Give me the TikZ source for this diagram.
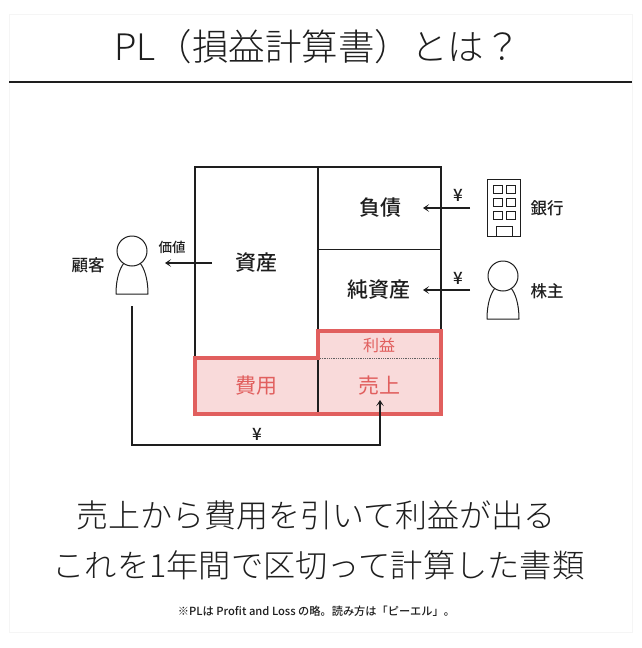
\documentclass[tikz,border=0pt]{standalone}
\usepackage{fontspec}
\setmainfont{Noto Sans CJK JP Medium}
\newfontfamily\lightjp{Noto Sans CJK JP Light}
\newfontfamily\regularjp{Noto Sans CJK JP}
\usetikzlibrary{arrows.meta}
\definecolor{redline}{HTML}{E15F5E}
\definecolor{pinkfill}{HTML}{F9DADA}
\definecolor{ink}{HTML}{1E1E1E}
\tikzset{
  x=1pt,y=-1pt,
  frameline/.style={draw=black!4,line width=0.8pt},
  heavy/.style={draw=ink,line width=1.6pt},
  thin line/.style={draw=ink,line width=1pt},
  redbox/.style={draw=redline,line width=3.2pt,miter limit=10},
  conn/.style={draw=ink,line width=1.3pt,-{Stealth[length=6pt,width=7.5pt,inset=3pt]}},
  titletext/.style={font=\lightjp\fontsize{36.5}{40}\selectfont,text=ink,inner sep=0},
  bigtext/.style={font=\lightjp\fontsize{32}{36}\selectfont,text=ink,inner sep=0},
  boxlabel/.style={font=\fontsize{21}{24}\selectfont,text=ink,inner sep=0},
  redlabel/.style={font=\regularjp\fontsize{21}{24}\selectfont,text=redline,inner sep=0},
  sidelabel/.style={font=\fontsize{16.5}{20}\selectfont,text=ink,inner sep=0},
  yenlabel/.style={font=\fontsize{17}{20}\selectfont,text=ink,inner sep=0},
  person/.pic={
    \draw[ink,line width=1pt,line join=round] (-16,43) .. controls (-16,27) and (-12,17) .. (-8,12)
      -- (8,12) .. controls (12,17) and (16,27) .. (16,43) -- cycle;
    \draw[ink,line width=1pt,fill=white] (0,0) circle[radius=15];
  }
}
\begin{document}
\begin{tikzpicture}
\useasboundingbox (0,0) rectangle (642,648);
\fill[white] (0,0) rectangle (642,648);
\draw[frameline] (9,14) rectangle (632,632);
\draw[draw=ink,line width=1.2pt] (9,82) -- (632,82);
\node[titletext] (title) at (317.5,47) {PL（損益計算書）とは？};

% sheet
\fill[pinkfill] (195,358) -- (318,358) -- (318,331) -- (441,331) -- (441,414) -- (195,414) -- cycle;
\draw[heavy] (195,358) -- (195,167) -- (441,167) -- (441,331);
\draw[heavy] (318,167) -- (318,414);
\draw[thin line] (318,249) -- (441,249);
\draw[redbox] (195,358) -- (318,358) -- (318,331) -- (441,331) -- (441,414) -- (195,414) -- cycle;
\draw[ink!70,line width=0.9pt,line cap=butt,dash pattern=on 1pt off 0.8pt] (320,358.5) -- (439,358.5);

\node[boxlabel] (assets) at (256.5,263) {資産};
\node[boxlabel] (debt) at (380,208) {負債};
\node[boxlabel] (equity) at (379,290) {純資産};
\node[redlabel] (cost) at (256.5,386) {費用};
\node[redlabel] (sales) at (379,386) {売上};
\node[font=\regularjp\fontsize{16}{20}\selectfont,text=redline,inner sep=0] (profit) at (379,345) {利益};

% people
\pic at (132,251) {person};
\pic at (503,276) {person};
\node[sidelabel] (customer) at (88,265) {顧客};
\node[sidelabel] (holder) at (547,291) {株主};
\node[sidelabel] (bank) at (547,208) {銀行};
\node[font=\fontsize{13.5}{16}\selectfont,text=ink,inner sep=0] (value) at (172,247) {価値};

% building
\draw[ink,line width=1pt] (487,179) rectangle (520,236);
\foreach \yy in {185,198,211}{
  \draw[ink,line width=0.8pt] (493,\yy) rectangle +(9,8.5);
  \draw[ink,line width=0.8pt] (506,\yy) rectangle +(9,8.5);
}
\draw[ink,line width=0.8pt] (496,236) -- (496,226) -- (512,226) -- (512,236);

% connectors
\coordinate (a1) at (212,263); \coordinate (a2) at (165,263);
\coordinate (b1) at (470,208); \coordinate (b2) at (423,208);
\coordinate (c1) at (470,290); \coordinate (c2) at (423,290);
\coordinate (d1) at (132,306); \coordinate (d2) at (380,400);
\draw[conn] (a1) -- (a2);
\draw[conn] (b1) -- (b2);
\draw[conn] (c1) -- (c2);
\draw[conn] (d1) -- (132,445) -- (380,445) -- (d2);
\node[yenlabel] (y1) at (257,434) {¥};
\node[yenlabel] (y2) at (458,195) {¥};
\node[yenlabel] (y3) at (458,278) {¥};

\node[bigtext] (line1) at (316,515) {売上から費用を引いて利益が出る};
\node[bigtext,xscale=1.008] (line2) at (318.5,565) {これを1年間で区切って計算した書類};
\node[font=\fontsize{11.2}{13}\selectfont,text=ink,inner sep=0] (note) at (316.5,611) {※PLは Profit and Loss の略。読み方は「ピーエル」。};
\end{tikzpicture}
\end{document}
